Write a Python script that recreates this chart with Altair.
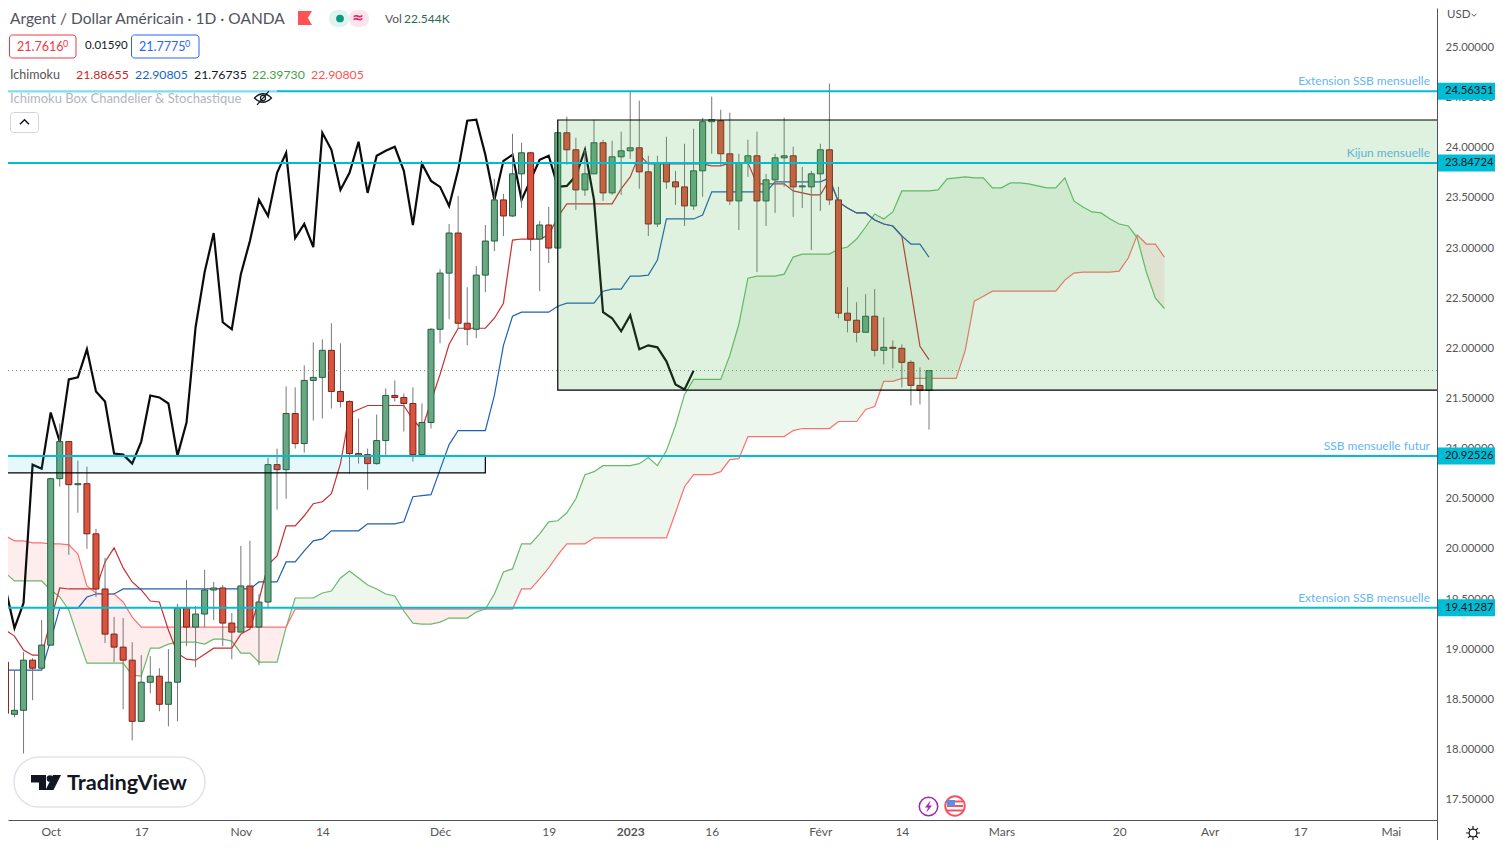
import altair as alt
import pandas as pd

# ---------- data ----------
first_bar = -5
opens = [18.87,18.35,18.39,18.89,18.81,19.04,20.70,21.07,20.64,20.65,20.15,19.60,19.15,19.02,18.89,18.28,18.67,18.73,18.45,18.67,
         19.41,19.22,19.35,19.59,19.61,19.26,19.17,19.63,19.22,19.47,20.84,20.79,21.35,21.05,21.68,21.71,21.98,21.57,21.47,20.95,
         20.94,20.85,21.08,21.53,21.51,21.45,20.94,21.26,22.19,22.75,23.15,22.25,22.19,22.73,23.07,23.48,23.32,23.74,23.95,23.09,
         23.23,23.00,24.15,23.98,23.58,23.74,24.05,23.55,23.91,23.97,24.00,23.76,23.24,23.85,23.66,23.61,23.42,23.77,24.26,24.27,
         23.94,23.47,23.85,23.92,23.47,23.68,23.90,23.92,23.61,23.61,23.74,23.98,23.48,22.35,22.28,22.16,22.32,21.98,22.01,22.00,
         21.86,21.63,21.58]
closes = [18.36,18.39,18.89,18.81,19.04,20.70,21.07,20.64,20.65,20.15,19.60,19.15,19.02,18.89,18.28,18.67,18.73,18.45,18.67,19.41,
          19.22,19.35,19.59,19.61,19.26,19.17,19.63,19.22,19.47,20.84,20.79,21.35,21.05,21.68,21.71,21.98,21.57,21.47,20.95,20.93,
          20.85,21.08,21.53,21.51,21.45,20.94,21.26,22.19,22.75,23.15,22.25,22.19,22.73,23.07,23.48,23.32,23.74,23.95,23.09,23.23,
          23.00,24.15,23.98,23.58,23.74,24.05,23.55,23.91,23.97,24.00,23.76,23.24,23.85,23.66,23.61,23.42,23.77,24.26,24.28,23.94,
          23.47,23.85,23.92,23.47,23.68,23.90,23.92,23.61,23.62,23.74,23.98,23.48,22.35,22.28,22.16,22.32,21.98,22.01,22.00,21.86,
          21.63,21.58,21.7775]
highs = [19.03,18.79,18.97,18.91,19.29,20.71,21.25,21.07,20.88,20.82,20.20,19.91,19.32,19.31,19.07,18.94,18.93,18.81,19.00,19.45,
         19.69,19.43,19.79,19.67,19.64,19.36,20.03,20.08,19.55,20.91,21.00,21.62,21.61,21.83,22.06,22.09,22.25,22.05,21.48,21.30,
         21.00,21.34,21.60,21.68,21.55,21.61,21.45,22.20,22.79,23.24,23.52,22.61,22.82,23.23,23.69,23.54,24.14,24.05,23.96,23.27,
         23.41,24.15,24.31,24.10,23.98,24.28,24.08,24.07,24.16,24.56,24.47,23.92,23.92,24.11,23.77,24.04,24.19,24.30,24.51,24.38,
         24.35,23.94,24.08,24.16,23.74,23.94,24.30,24.01,23.81,23.77,24.04,24.64,23.61,22.61,22.46,22.54,22.59,22.31,22.08,22.04,
         21.88,21.81,21.78]
lows = [18.33,18.32,17.96,18.49,18.81,19.04,20.62,19.94,20.36,20.00,19.52,19.06,18.87,18.40,18.09,18.28,18.56,18.38,18.23,18.28,
        19.03,18.82,19.22,19.29,19.03,18.90,19.17,19.22,18.84,19.42,20.39,20.50,21.00,20.96,21.28,21.30,21.40,21.41,20.75,20.85,
        20.59,20.84,20.92,21.47,21.17,20.87,20.94,21.20,22.05,22.29,22.19,22.03,22.10,22.56,22.97,23.12,23.31,23.40,22.97,22.57,
        22.85,23.00,23.83,23.38,23.52,23.74,23.47,23.53,23.53,23.89,23.59,23.12,23.21,23.59,23.43,23.22,23.38,23.51,23.94,23.82,
        23.43,23.18,23.71,22.76,23.22,23.35,23.61,23.31,23.40,22.98,23.37,23.43,22.30,22.16,22.06,22.16,21.92,21.84,21.80,21.61,
        21.43,21.44,21.19]

line_start = -6
tenkan = [19.24,19.19,19.13,18.99,18.94,18.94,19.29,19.61,19.60,19.60,19.60,19.60,19.87,20.01,19.81,19.67,19.59,19.48,19.47,19.19,
          18.96,18.90,18.89,18.95,19.01,19.01,19.01,19.15,19.20,19.49,19.84,19.93,20.23,20.23,20.33,20.45,20.47,20.55,20.85,21.35,
          21.39,21.43,21.43,21.43,21.43,21.43,21.29,21.19,21.47,21.74,22.04,22.20,22.20,22.20,22.20,22.30,22.45,23.08,23.09,23.09,
          23.09,23.13,23.31,23.44,23.44,23.44,23.44,23.44,23.44,23.59,23.71,23.93,23.84,23.84,23.84,23.84,23.84,23.84,23.84,23.82,
          23.82,23.85,23.85,23.85,23.64,23.64,23.64,23.64,23.57,23.55,23.53,23.53,23.68,23.46,23.40,23.35,23.35,23.28,23.24,23.22,
          23.12,22.58,22.02,21.88655]
kijun = [18.79,18.79,18.79,18.79,18.79,18.79,19.09,19.41,19.41,19.41,19.52,19.55,19.55,19.55,19.60,19.60,19.60,19.60,19.60,19.60,
         19.60,19.60,19.60,19.60,19.60,19.60,19.60,19.60,19.60,19.67,19.67,19.67,19.87,19.87,19.98,20.08,20.10,20.18,20.18,20.18,
         20.18,20.25,20.25,20.25,20.25,20.27,20.52,20.53,20.54,20.79,21.04,21.18,21.18,21.18,21.18,21.53,22.03,22.32,22.36,22.36,
         22.36,22.36,22.42,22.45,22.45,22.45,22.45,22.57,22.59,22.59,22.72,22.72,22.73,22.88,23.29,23.29,23.29,23.29,23.33,23.56,
         23.56,23.56,23.56,23.56,23.56,23.56,23.66,23.66,23.66,23.66,23.66,23.66,23.70,23.46,23.40,23.35,23.35,23.28,23.24,23.22,
         23.12,23.04,23.04,22.90805]
chikou = [19.24,19.61,19.21,19.46,20.84,20.80,21.36,21.07,21.69,21.71,21.99,21.57,21.47,20.95,20.94,20.85,21.07,21.53,21.51,21.45,
          20.93,21.26,22.21,22.76,23.15,22.26,22.19,22.74,23.07,23.48,23.32,23.75,23.95,23.10,23.24,23.01,24.15,23.98,23.58,23.75,
          24.06,23.55,23.92,23.97,24.01,23.77,23.23,23.84,23.67,23.61,23.42,23.78,24.27,24.28,23.93,23.48,23.87,23.93,23.48,23.68,
          23.88,23.92,23.61,23.62,23.72,23.98,23.48,22.36,22.30,22.17,22.33,21.99,22.03,22.01,21.87,21.64,21.59,21.7775]
senkou_a = [19.84,19.76,19.68,19.68,19.68,19.68,19.59,19.52,19.39,19.12,18.86,18.86,18.86,18.86,18.86,18.74,18.73,19.01,19.01,19.05,
            19.07,19.07,19.07,19.05,19.10,19.10,19.08,18.96,18.96,18.87,18.87,18.87,19.22,19.51,19.51,19.51,19.56,19.58,19.71,19.78,
            19.71,19.64,19.60,19.55,19.53,19.38,19.26,19.25,19.25,19.27,19.31,19.31,19.31,19.37,19.40,19.55,19.77,19.80,20.05,20.05,
            20.15,20.27,20.28,20.36,20.50,20.74,20.77,20.83,20.83,20.83,20.83,20.85,20.91,20.83,20.98,21.23,21.54,21.69,21.69,21.69,
            21.69,21.93,22.24,22.70,22.72,22.72,22.72,22.74,22.91,22.94,22.94,22.94,22.94,22.99,23.01,23.09,23.21,23.34,23.29,23.36,
            23.57,23.57,23.57,23.57,23.58,23.69,23.70,23.71,23.70,23.70,23.60,23.60,23.65,23.65,23.64,23.62,23.60,23.60,23.70,23.47,
            23.41,23.36,23.35,23.29,23.24,23.22,23.10,22.76,22.50,22.3973]
senkou_b = [20.21,20.13,20.08,20.08,20.06,20.06,20.05,20.05,20.04,19.95,19.63,19.56,19.55,19.55,19.47,19.32,19.22,19.22,19.22,19.22,
            19.22,19.22,19.22,19.22,19.22,19.22,19.22,19.22,19.22,19.22,19.22,19.22,19.22,19.40,19.40,19.40,19.40,19.40,19.40,19.40,
            19.40,19.40,19.40,19.40,19.40,19.40,19.40,19.40,19.40,19.40,19.40,19.40,19.40,19.40,19.40,19.40,19.40,19.40,19.60,19.60,
            19.70,19.81,19.94,20.05,20.05,20.05,20.11,20.11,20.11,20.11,20.11,20.11,20.11,20.11,20.11,20.36,20.62,20.74,20.74,20.74,
            20.77,20.89,20.90,21.12,21.12,21.12,21.12,21.12,21.18,21.20,21.20,21.20,21.20,21.27,21.27,21.27,21.39,21.42,21.67,21.67,
            21.70,21.70,21.70,21.70,21.70,21.70,21.70,21.98,22.47,22.52,22.57,22.57,22.57,22.57,22.57,22.57,22.57,22.57,22.68,22.75,
            22.76,22.76,22.76,22.76,22.77,22.90,23.13,23.04,23.04,22.90805]

level_prices = [24.56351, 23.84724, 20.92526, 19.41287]
level_names = ["Extension SSB mensuelle", "Kijun mensuelle", "SSB mensuelle futur", "Extension SSB mensuelle"]
last_price = 21.7775
big_box = dict(i=56, i2=160, p=24.277, p2=21.584)
small_box = dict(i=-8, i2=48, p=20.925, p2=20.757)
x_tick_bars = [0, 10, 21, 30, 43, 55, 64, 73, 85, 94, 105, 118, 128, 138, 148]
x_tick_names = ["Oct", "17", "Nov", "14", "Déc", "19", "2023", "16", "Févr", "14", "Mars", "20", "Avr", "17", "Mai"]
y_ticks = [17.5 + 0.5 * k for k in range(16)]

FONT = "Lato"
W, H = 1429, 812
xsc = alt.Scale(domain=[-4.716, 153.1], nice=False, zero=False, padding=0)
ysc = alt.Scale(domain=[17.296, 25.394], nice=False, zero=False)
X = lambda f="i": alt.X(f"{f}:Q", scale=xsc, title=None,
    axis=alt.Axis(values=x_tick_bars, title=None, grid=False, ticks=False, domainColor="#50535e", domainWidth=1,
                  labelFont=FONT, labelFontSize=12, labelColor="#555555", labelPadding=6, labelFlush=False,
                  labelFontWeight={"condition": {"test": "datum.value==64", "value": "bold"}, "value": "normal"},
                  labelExpr="%s[indexof(%s,datum.value)]" % (x_tick_names, x_tick_bars), labelOverlap=False))
Y = lambda f="p": alt.Y(f"{f}:Q", scale=ysc, title=None,
    axis=alt.Axis(values=y_ticks, orient="right", title=None, grid=False, ticks=False, format=".5f",
                  domainColor="#50535e", domainWidth=1, labelFont=FONT, labelFontSize=11.3, labelColor="#555555",
                  labelPadding=8, labelOverlap=False, labelFlush=False))
X2 = lambda f: alt.X2(f"{f}:Q")
Y2 = lambda f: alt.Y2(f"{f}:Q")

candles = pd.DataFrame({"i": range(first_bar, first_bar + len(opens)), "o": opens, "h": highs, "l": lows, "c": closes})
candles["dir"] = ["up" if c >= o else "down" for o, c in zip(opens, closes)]
cloud = pd.DataFrame({"i": range(line_start, line_start + len(senkou_a)), "a": senkou_a, "b": senkou_b})
cloud["top"] = cloud[["a", "b"]].max(axis=1)

def series(vals):
    return pd.DataFrame({"i": range(line_start, line_start + len(vals)), "p": vals})

one = alt.Data(values=[{}])
def px(v):
    return alt.value(v - 8)

def text(s, x, y, color="#555555", size=12, weight="normal", align="left", font=FONT):
    return alt.Chart(one).mark_text(text=s, font=font, fontSize=size, fontWeight=weight, color=color, align=align,
                                    baseline="middle").encode(x=px(x), y=px(y))

def box(x0, y0, x1, y1, fill="white", stroke=None, sw=1, r=0, op=1):
    kw = dict(fill=fill, opacity=op, cornerRadius=r)
    if stroke:
        kw.update(stroke=stroke, strokeWidth=sw)
    return alt.Chart(one).mark_rect(**kw).encode(x=px(x0), x2=px(x1), y=px(y0), y2=px(y1))

def icon(path, x, y, size, fill="transparent", stroke="#131722", sw=1.2):
    return alt.Chart(one).mark_point(shape=path, size=size * size, filled=False, fill=fill, stroke=stroke,
                                     strokeWidth=sw, opacity=1).encode(x=px(x), y=px(y))

layers = []
# cloud
layers.append(alt.Chart(cloud).mark_area(color="#ff5252", opacity=0.1, clip=True).encode(x=X(), y=Y("a"), y2=Y2("top")))
layers.append(alt.Chart(cloud).mark_area(color="#4caf50", opacity=0.1, clip=True).encode(x=X(), y=Y("b"), y2=Y2("top")))
for vals, col, sw in [(senkou_a, "#66bb6a", 1.2), (senkou_b, "#ff6f6f", 1.2), (tenkan, "#c62f2f", 1.2),
                      (kijun, "#1f5fb4", 1.2), (chikou, "#0b0b0b", 2.2)]:
    layers.append(alt.Chart(series(vals)).mark_line(color=col, strokeWidth=sw, clip=True).encode(x=X(), y=Y()))

# candles
layers.append(alt.Chart(candles).mark_rule(color="#787878", strokeWidth=1, clip=True).encode(x=X(), y=Y("l"), y2=Y2("h")))
layers.append(alt.Chart(candles).mark_bar(size=6, strokeWidth=1, clip=True, orient="vertical").encode(
    x=X(), y=Y("o"), y2=Y2("c"),
    fill=alt.Fill("dir:N", legend=None, scale=alt.Scale(domain=["up", "down"], range=["#6aa884", "#d9533f"])),
    stroke=alt.Stroke("dir:N", legend=None, scale=alt.Scale(domain=["up", "down"], range=["#1f5f3f", "#7a2218"]))))

# level captions
caption_y = pd.DataFrame({"p": level_prices, "t": level_names})
layers.append(alt.Chart(caption_y).mark_text(font=FONT, fontSize=12, color="#64b5f6", align="right", baseline="middle", dy=-10).encode(
    x=alt.value(1422), y=Y(), text="t:N"))

# boxes
layers.append(alt.Chart(pd.DataFrame([big_box])).mark_rect(fill="#4caf50", fillOpacity=0.18, stroke="#000000", strokeWidth=1.2, clip=True).encode(
    x=X(), x2=X2("i2"), y=Y(), y2=Y2("p2")))
layers.append(alt.Chart(pd.DataFrame([small_box])).mark_rect(fill="#00bcd4", fillOpacity=0.1, stroke="#000000", strokeWidth=1.2, clip=True).encode(
    x=X(), x2=X2("i2"), y=Y(), y2=Y2("p2")))

# levels and last price
levels = pd.DataFrame({"p": level_prices})
layers.append(alt.Chart(pd.DataFrame({"p": [last_price]})).mark_rule(color="#6f8f7f", strokeWidth=1, strokeDash=[1, 3]).encode(
    x=alt.value(0), x2=alt.value(W), y=Y()))
layers.append(alt.Chart(levels).mark_rule(color="#00bcd4", strokeWidth=2).encode(x=alt.value(0), x2=alt.value(W), y=Y()))
layers.append(alt.Chart(levels).mark_rule(color="#00bcd4", strokeWidth=17).encode(x=alt.value(W + 1), x2=alt.value(W + 58), y=Y()))
layers.append(alt.Chart(levels).mark_text(font=FONT, fontSize=11.3, color="#131722", align="left", baseline="middle").encode(
    x=alt.value(W + 8), y=Y(), text=alt.Text("p:Q", format=".5f")))

# legend block
layers.append(box(8, 90, 277, 92, fill="white", op=0.5))
layers.append(text("Argent / Dollar Américain · 1D · OANDA", 10, 19, "#50535e", 15.5))
layers.append(icon("M-1 -1 H1 L0.4 0 L1 1 H-1 Z", 305, 18, 14, fill="#ff5252", stroke="#ff5252", sw=0))
layers.append(box(329, 10, 349, 27, fill="#e0f3ee", r=8))
layers.append(box(349, 10, 369, 27, fill="#fce4ec", r=8))
layers.append(alt.Chart(one).mark_point(shape="circle", size=60, filled=True, color="#089981", opacity=1).encode(x=px(340), y=px(18.5)))
layers.append(text("≈", 358, 18, "#e91e63", 14, "bold", "center", "DejaVu Sans"))
layers.append(text("Vol", 385, 19, "#555555", 12))
layers.append(text("22.544K", 404, 19, "#2e6b55", 12))
layers.append(box(9.5, 35, 76, 58, stroke="#f23645", r=3))
layers.append(text("21.7616", 17, 47, "#f23645", 12.5))
layers.append(text("0", 63, 44, "#f23645", 9))
layers.append(text("0.01590", 85, 46, "#131722", 11.5))
layers.append(box(131.5, 35, 199, 58, stroke="#2962ff", r=3))
layers.append(text("21.7775", 139, 47, "#2962ff", 12.5))
layers.append(text("0", 185, 44, "#2962ff", 9))
layers.append(text("Ichimoku", 10, 75, "#555555", 12.5))
for t, x, c in [("21.88655", 76, "#c62828"), ("22.90805", 135, "#1565c0"), ("21.76735", 194, "#131722"),
                ("22.39730", 252, "#43a047"), ("22.90805", 311, "#ff5252")]:
    layers.append(text(t, x, 75, c, 12.3))
layers.append(text("Ichimoku Box Chandelier & Stochastique", 10, 99, "#b2b5be", 13))
layers.append(icon("M-1 0 Q0 -1 1 0 Q0 1 -1 0 Z M-0.7 0.8 L0.7 -0.8 M0.3 0 A0.3 0.3 0 1 1 -0.3 0 A0.3 0.3 0 1 1 0.3 0", 263, 98, 17))
layers.append(box(10.5, 112.5, 38.5, 132.5, stroke="#d1d4dc", r=3))
layers.append(icon("M-1 0.5 L0 -0.5 L1 0.5", 24.5, 122, 9, sw=1.5))

# price axis header
layers.append(text("USD", 1447, 15, "#555555", 11.5))
layers.append(icon("M-1 -0.5 L0 0.5 L1 -0.5", 1474, 15, 5, stroke="#555555", sw=1))

# watermark
layers.append(box(14, 757, 205, 807, stroke="#e0e3eb", sw=1.5, r=25))
layers.append(icon("M-1 -0.5 H0 V0.5 H-0.47 V0 H-1 Z M1 -0.5 L0.5 0.5 H-0.03 L0.47 -0.5 Z", 46, 782.5, 30, fill="#131722", stroke="#131722", sw=0))
layers.append(alt.Chart(one).mark_point(shape="circle", size=45, filled=True, color="#131722", opacity=1).encode(x=px(50), y=px(778.5)))
layers.append(text("TradingView", 67, 783, "#131722", 21.7, "bold"))

# event icons
layers.append(alt.Chart(one).mark_point(shape="circle", size=340, filled=False, stroke="#9c27b0", strokeWidth=1.5, fill="white", opacity=1).encode(x=px(928.5), y=px(806.5)))
layers.append(icon("M0.3 -1 L-0.6 0.15 H0 L-0.3 1 L0.6 -0.15 H0 Z", 928.5, 806.5, 10, fill="#9c27b0", stroke="#9c27b0", sw=0.5))
layers.append(alt.Chart(one).mark_point(shape="circle", size=380, filled=False, stroke="#f7525f", strokeWidth=2, fill="white", opacity=1).encode(x=px(955), y=px(806)))
layers.append(icon("M-1 -0.55 H1 M-1 0 H1 M-1 0.55 H1", 955, 806, 16, stroke="#f7525f", sw=2))
layers.append(box(947, 800, 955, 806, fill="#5b8ee6"))

# chrome
layers.append(icon("M0.55 0 A0.55 0.55 0 1 1 -0.55 0 A0.55 0.55 0 1 1 0.55 0 M0 -1 V-0.6 M0 0.6 V1 M-1 0 H-0.6 M0.6 0 H1 M-0.7 -0.7 L-0.42 -0.42 M0.7 -0.7 L0.42 -0.42 M-0.7 0.7 L-0.42 0.42 M0.7 0.7 L0.42 0.42", 1473, 833, 14))
layers.append(box(1437, 820, 1438, 840, fill="#50535e"))

chart = alt.layer(*layers).properties(
    width=W, height=H, background="white",
    autosize=alt.AutoSizeParams(type="none"),
    padding={"left": 0, "top": 0, "right": 58, "bottom": 20},
).configure_view(stroke=None)
chart.save("out.html", embed_options={"renderer": "svg", "actions": False})
